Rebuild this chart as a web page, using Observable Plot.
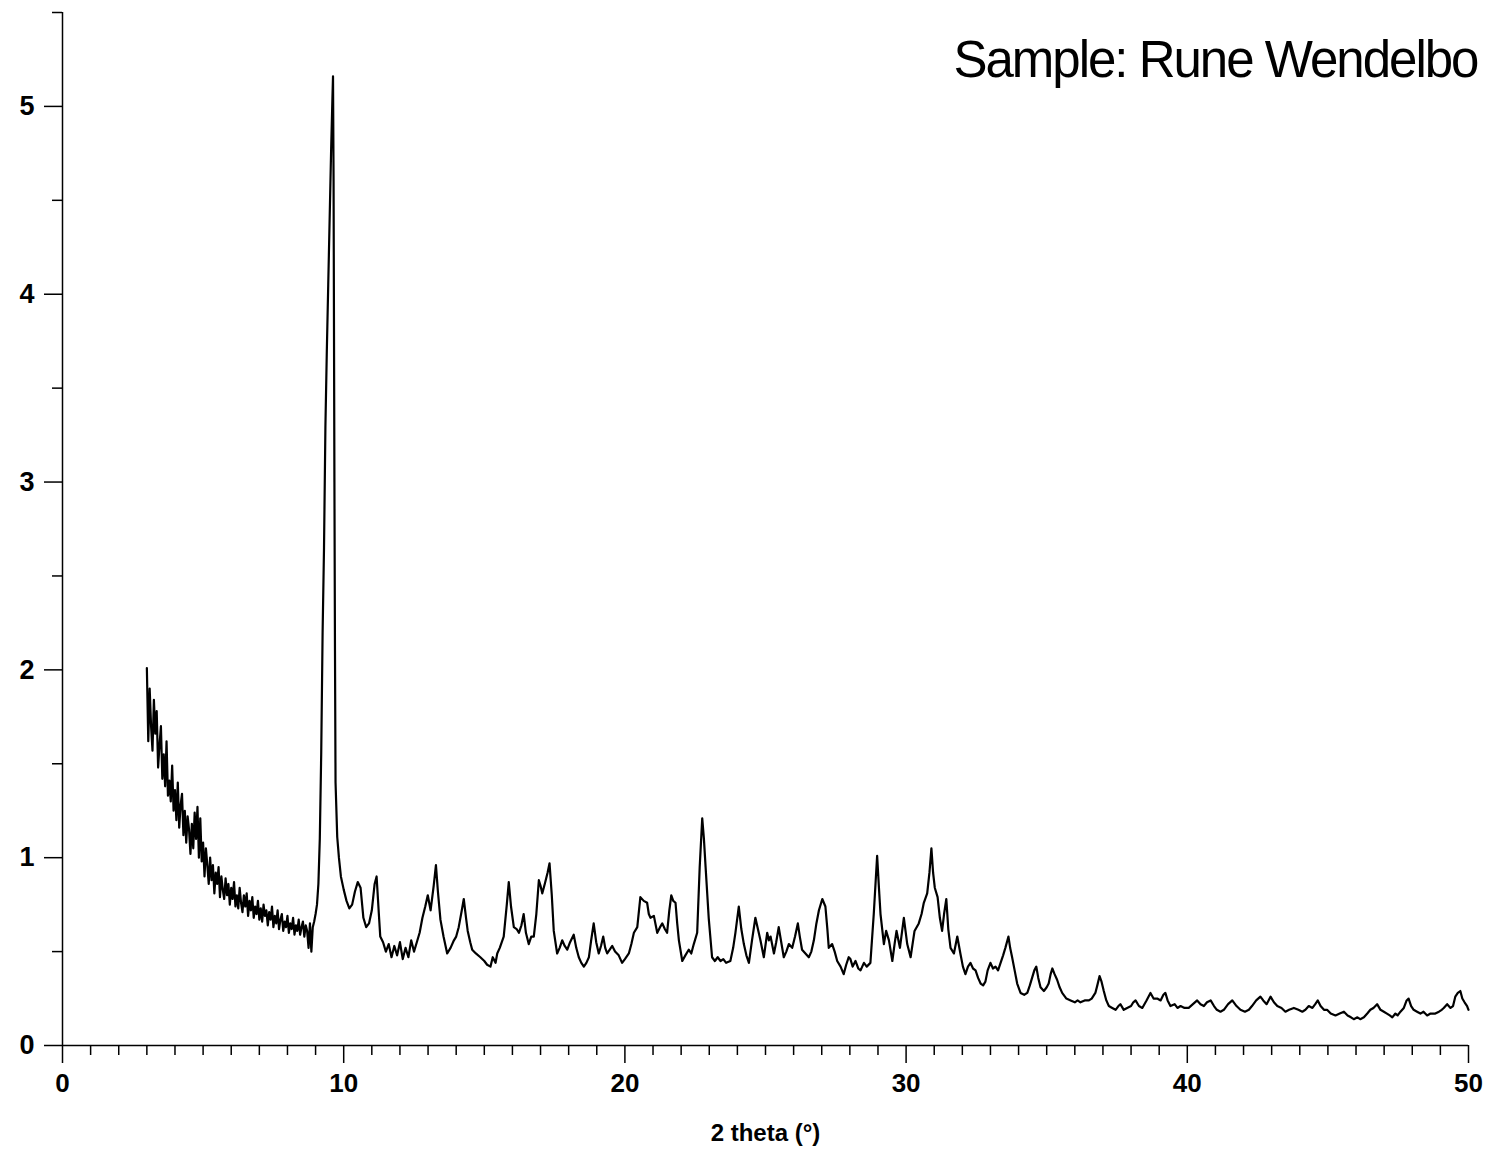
<!DOCTYPE html>
<html>
<head>
<meta charset="utf-8">
<script src="https://cdn.jsdelivr.net/npm/d3@7"></script>
<script src="https://cdn.jsdelivr.net/npm/@observablehq/plot@0.6"></script>
<style>
  html, body { margin: 0; padding: 0; background: #fff; }
  #chart svg { display: block; }
</style>
</head>
<body>
<div id="chart"></div>
<script>
// [2 theta (deg), intensity]
const lowAngle = [
  [3.00,2.01],[3.05,1.62],[3.10,1.90],[3.15,1.70],[3.20,1.57],[3.25,1.84],[3.30,1.66],[3.35,1.78],
  [3.40,1.48],[3.45,1.60],[3.50,1.70],[3.55,1.42],[3.60,1.55],[3.65,1.38],[3.70,1.62],[3.75,1.33],
  [3.80,1.41],[3.85,1.30],[3.90,1.49],[3.95,1.25],[4.00,1.36],[4.05,1.20],[4.10,1.40],[4.15,1.16],
  [4.20,1.28],[4.25,1.34],[4.30,1.12],[4.35,1.25],[4.40,1.08],[4.45,1.22],[4.50,1.15],[4.55,1.02],
  [4.60,1.18],[4.65,1.05],[4.70,1.24],[4.75,1.10],[4.80,1.27],[4.85,1.00],[4.90,1.21],[4.95,0.98],
  [5.00,1.08],[5.05,0.90],[5.10,1.05],[5.15,0.96],[5.20,0.86],[5.25,1.00],[5.30,0.88],[5.35,0.96],
  [5.40,0.81],[5.45,0.92],[5.50,0.86],[5.55,0.95],[5.60,0.79],[5.65,0.90],[5.70,0.83],[5.75,0.78],
  [5.80,0.89],[5.85,0.80],[5.90,0.86],[5.95,0.75],[6.00,0.84],[6.05,0.78],[6.10,0.87],[6.15,0.74],
  [6.20,0.80],[6.25,0.73],[6.30,0.84],[6.35,0.76],[6.40,0.71],[6.45,0.80],[6.50,0.74],[6.55,0.81],
  [6.60,0.69],[6.65,0.77],[6.70,0.72],[6.75,0.79],[6.80,0.68],[6.85,0.74],[6.90,0.70],[6.95,0.77],
  [7.00,0.67],[7.05,0.73],[7.10,0.66],[7.15,0.75],[7.20,0.69],[7.25,0.72],[7.30,0.64],[7.35,0.71],
  [7.40,0.67],[7.45,0.74],[7.50,0.63],[7.55,0.69],[7.60,0.65],[7.65,0.72],[7.70,0.62],[7.75,0.67],
  [7.80,0.70],[7.85,0.61],[7.90,0.66],[7.95,0.63],[8.00,0.69],[8.05,0.60],[8.10,0.65],[8.15,0.62],
  [8.20,0.68],[8.25,0.59],[8.30,0.64],[8.35,0.61],[8.40,0.67],[8.45,0.59],[8.50,0.63],[8.55,0.66],
  [8.60,0.58],[8.65,0.64],[8.70,0.61],[8.75,0.52],[8.80,0.65],[8.85,0.50],[8.90,0.63],[8.95,0.66]
];
const mainPeak = [
  [9.00,0.70],[9.05,0.75],[9.10,0.86],[9.15,1.10],[9.20,1.55],[9.25,2.20],[9.30,2.65],[9.35,3.30],
  [9.40,3.70],[9.45,4.05],[9.50,4.40],[9.55,4.75],[9.60,5.05],[9.62,5.16],[9.64,4.60],[9.67,3.00],
  [9.69,2.10],[9.71,1.40],[9.77,1.11]
];
const midRange = [
  [9.83,1.00],[9.90,0.90],[10.00,0.83],[10.10,0.77],[10.20,0.73],[10.30,0.75],[10.40,0.82],[10.50,0.87],
  [10.60,0.84],[10.70,0.68],[10.80,0.63],[10.90,0.65],[11.00,0.72],[11.10,0.86],[11.17,0.90],[11.25,0.70],
  [11.30,0.58],[11.40,0.55],[11.50,0.50],[11.60,0.54],[11.70,0.47],[11.80,0.53],[11.90,0.48],[12.00,0.55],
  [12.10,0.46],[12.20,0.52],[12.30,0.47],[12.40,0.56],[12.50,0.50],[12.60,0.55],[12.70,0.60],[12.80,0.68],
  [12.90,0.74],[12.99,0.80],[13.09,0.72],[13.20,0.85],[13.28,0.96],[13.35,0.82],[13.44,0.67],[13.55,0.58],
  [13.68,0.49],[13.80,0.52],[13.92,0.56],[14.00,0.58],[14.09,0.63],[14.20,0.72],[14.27,0.78],[14.35,0.68],
  [14.41,0.61],[14.50,0.55],[14.57,0.51],[14.70,0.49],[14.86,0.47],[15.00,0.45],[15.10,0.43],[15.22,0.42],
  [15.30,0.47],[15.40,0.44],[15.46,0.49],[15.55,0.52],[15.69,0.58],[15.80,0.75],[15.87,0.87],[15.95,0.74],
  [16.05,0.63],[16.15,0.62],[16.23,0.60],[16.32,0.64],[16.40,0.70],[16.48,0.60],[16.58,0.54],[16.67,0.58],
  [16.76,0.58],[16.85,0.70],[16.94,0.88],[17.00,0.85],[17.06,0.81],[17.15,0.86],[17.25,0.92],[17.32,0.97],
  [17.40,0.80],[17.47,0.61],[17.59,0.49],[17.68,0.52],[17.77,0.56],[17.86,0.53],[17.95,0.51],[18.05,0.55],
  [18.18,0.59],[18.27,0.52],[18.36,0.47],[18.45,0.44],[18.54,0.42],[18.63,0.44],[18.72,0.47],[18.80,0.56],
  [18.89,0.65],[18.98,0.55],[19.07,0.49],[19.15,0.53],[19.23,0.58],[19.30,0.52],[19.37,0.49],[19.46,0.51],
  [19.55,0.53],[19.65,0.50],[19.78,0.48],[19.90,0.44],[20.00,0.46],[20.14,0.49],[20.23,0.54],[20.32,0.60],
  [20.44,0.63],[20.55,0.79],[20.67,0.77],[20.79,0.76],[20.85,0.70],[20.91,0.68],[21.03,0.69],[21.15,0.60],
  [21.25,0.63],[21.33,0.65],[21.42,0.62],[21.50,0.60],[21.58,0.72],[21.65,0.80],[21.72,0.77],[21.80,0.76],
  [21.86,0.65],[21.92,0.56],[22.04,0.45],[22.15,0.48],[22.27,0.51],[22.36,0.49],[22.45,0.54],[22.57,0.60],
  [22.66,0.95],[22.75,1.21],[22.81,1.10],[22.87,0.95],[22.98,0.68],[23.10,0.47],[23.20,0.45],[23.30,0.47],
  [23.40,0.45],[23.50,0.46],[23.60,0.44],[23.75,0.45],[23.85,0.52],[23.93,0.60],[24.05,0.74],[24.14,0.62],
  [24.23,0.54],[24.32,0.48],[24.41,0.44],[24.52,0.56],[24.64,0.68],[24.73,0.62],[24.82,0.56],[24.94,0.47],
  [25.06,0.60],[25.12,0.56],[25.18,0.58],[25.30,0.49],[25.38,0.55],[25.47,0.63],[25.56,0.55],[25.65,0.47],
  [25.74,0.50],[25.83,0.54],[25.95,0.52],[26.05,0.58],[26.15,0.65],[26.22,0.58],[26.30,0.51],[26.42,0.49],
  [26.54,0.47],[26.63,0.50],[26.72,0.56],[26.81,0.65],[26.90,0.72],[27.02,0.78],[27.13,0.74],[27.20,0.62],
  [27.25,0.52],[27.37,0.54],[27.46,0.50],[27.55,0.45],[27.67,0.42],[27.78,0.38],[27.87,0.43],[27.96,0.47],
  [28.02,0.46],[28.10,0.42],[28.20,0.45],[28.30,0.41],[28.38,0.40],[28.50,0.44],[28.60,0.42],[28.73,0.44],
  [28.85,0.70],[28.97,1.01],[29.03,0.85],[29.09,0.70],[29.21,0.54],[29.29,0.61],[29.39,0.56],[29.51,0.45],
  [29.60,0.55],[29.66,0.61],[29.78,0.52],[29.85,0.60],[29.92,0.68],[30.04,0.54],[30.16,0.47],[30.30,0.61],
  [30.45,0.65],[30.55,0.70],[30.63,0.76],[30.75,0.81],[30.83,0.92],[30.90,1.05],[30.96,0.92],[31.02,0.84],
  [31.12,0.79],[31.20,0.68],[31.28,0.61],[31.35,0.70],[31.43,0.78],[31.50,0.62],[31.58,0.52],[31.70,0.49],
  [31.82,0.58],[31.93,0.49],[32.02,0.42],[32.11,0.38],[32.20,0.42],[32.29,0.44],[32.38,0.41],[32.47,0.40],
  [32.56,0.36],[32.65,0.33],[32.74,0.32],[32.82,0.34],[32.90,0.40],[33.00,0.44],[33.09,0.41],[33.18,0.42],
  [33.27,0.40],[33.36,0.44],[33.45,0.48],[33.53,0.52],[33.64,0.58],[33.70,0.52],[33.77,0.47],[33.86,0.40],
  [33.95,0.33],[34.07,0.28],[34.20,0.27],[34.31,0.28],[34.40,0.32],[34.48,0.36],[34.56,0.40],[34.63,0.42],
  [34.70,0.36],[34.78,0.31],[34.90,0.29],[35.00,0.31],[35.07,0.33],[35.14,0.38],[35.20,0.41],[35.28,0.38],
  [35.37,0.35],[35.46,0.31],[35.55,0.28],[35.70,0.25],[35.85,0.24]
];
const highAngle = [
  [36.00,0.23],[36.10,0.24],[36.20,0.23],[36.35,0.24],[36.50,0.24],[36.60,0.25],[36.73,0.28],[36.80,0.32],
  [36.88,0.37],[36.95,0.34],[37.03,0.29],[37.12,0.24],[37.21,0.21],[37.33,0.20],[37.45,0.19],[37.55,0.21],
  [37.62,0.22],[37.74,0.19],[37.86,0.20],[38.00,0.21],[38.08,0.23],[38.16,0.24],[38.28,0.21],[38.40,0.20],
  [38.55,0.24],[38.69,0.28],[38.80,0.25],[38.93,0.25],[39.05,0.24],[39.15,0.27],[39.22,0.28],[39.30,0.24],
  [39.40,0.21],[39.55,0.22],[39.65,0.20],[39.76,0.21],[39.90,0.20],[40.05,0.20],[40.20,0.22],[40.35,0.24],
  [40.47,0.22],[40.59,0.21],[40.70,0.23],[40.83,0.24],[40.95,0.21],[41.05,0.19],[41.18,0.18],[41.30,0.19],
  [41.45,0.22],[41.60,0.24],[41.75,0.21],[41.89,0.19],[42.05,0.18],[42.19,0.19],[42.30,0.21],[42.45,0.24],
  [42.60,0.26],[42.70,0.24],[42.82,0.22],[42.96,0.26],[43.08,0.23],[43.20,0.21],[43.35,0.20],[43.49,0.18],
  [43.62,0.19],[43.79,0.20],[43.95,0.19],[44.09,0.18],[44.20,0.19],[44.32,0.21],[44.45,0.20],[44.55,0.22],
  [44.64,0.24],[44.74,0.21],[44.86,0.19],[44.97,0.19],[45.10,0.17],[45.27,0.16],[45.42,0.17],[45.57,0.18],
  [45.70,0.16],[45.82,0.15],[45.92,0.14],[46.05,0.15],[46.15,0.14],[46.28,0.15],[46.40,0.17],[46.51,0.19],
  [46.62,0.20],[46.75,0.22],[46.87,0.19],[46.99,0.18],[47.10,0.17],[47.20,0.16],[47.29,0.15],[47.40,0.17],
  [47.48,0.16],[47.58,0.18],[47.70,0.20],[47.80,0.24],[47.87,0.25],[47.96,0.21],[48.05,0.19],[48.17,0.18],
  [48.29,0.17],[48.40,0.18],[48.53,0.16],[48.65,0.17],[48.82,0.17],[48.95,0.18],[49.05,0.19],[49.12,0.20],
  [49.24,0.22],[49.36,0.20],[49.45,0.21],[49.53,0.26],[49.62,0.28],[49.71,0.29],[49.78,0.25],[49.86,0.23],
  [49.95,0.21],[50.00,0.19]
];

const xMajorTicks = [0, 10, 20, 30, 40, 50];
const xMinorTicks = [1,2,3,4,5,6,7,8,9,11,12,13,14,15,16,17,18,19,21,22,23,24,25,26,27,28,29,
                     31,32,33,34,35,36,37,38,39,41,42,43,44,45,46,47,48,49];
const yMajorTicks = [0, 1, 2, 3, 4, 5];
const yMinorTicks = [0.5, 1.5, 2.5, 3.5, 4.5, 5.5];
const titleText = "Sample: Rune Wendelbo";
const xAxisLabel = "2 theta (°)";

const pattern = [...lowAngle, ...mainPeak, ...midRange, ...highAngle].map(([t, v]) => ({t, v}));

const font = "'Liberation Sans', Arial, Helvetica, sans-serif";

const chart = Plot.plot({
  width: 1502,
  height: 1161,
  marginLeft: 62,
  marginRight: 34,
  marginTop: 12,
  marginBottom: 116,
  style: {fontFamily: font, background: "#fff", color: "#000"},
  x: {domain: [0, 50], label: null},
  y: {domain: [0, 5.5], label: null},
  marks: [
    Plot.axisY(yMinorTicks, {tickSize: 10, tickFormat: () => "", strokeWidth: 1.5, label: null}),
    Plot.axisY(yMajorTicks, {tickSize: 18, tickPadding: 10, fontSize: 27, fontWeight: "bold",
                             strokeWidth: 1.5, tickFormat: d => String(d), label: null}),
    Plot.axisX(xMinorTicks, {tickSize: 10, tickFormat: () => "", strokeWidth: 1.5, label: null}),
    Plot.axisX(xMajorTicks, {tickSize: 18, tickPadding: 10, fontSize: 26, fontWeight: "bold",
                             strokeWidth: 1.5, tickFormat: d => String(d), label: null}),
    Plot.ruleX([0], {stroke: "#000", strokeWidth: 1.5}),
    Plot.ruleY([0], {stroke: "#000", strokeWidth: 1.5}),
    Plot.line(pattern, {x: "t", y: "v", stroke: "#000", strokeWidth: 2.2, strokeLinejoin: "round"}),
    Plot.text([titleText], {frameAnchor: "top-right", dx: 9, dy: 48, fontSize: 51,
                            textAnchor: "end", lineAnchor: "middle", fill: "#000"}),
    Plot.text([xAxisLabel], {frameAnchor: "bottom", dy: 88, fontSize: 24, fontWeight: "bold",
                             lineAnchor: "middle", fill: "#000"})
  ]
});

d3.select(chart).selectAll("text").filter(function() { return this.textContent === titleText; })
  .attr("letter-spacing", "-2px");

document.getElementById("chart").appendChild(chart);
</script>
</body>
</html>
